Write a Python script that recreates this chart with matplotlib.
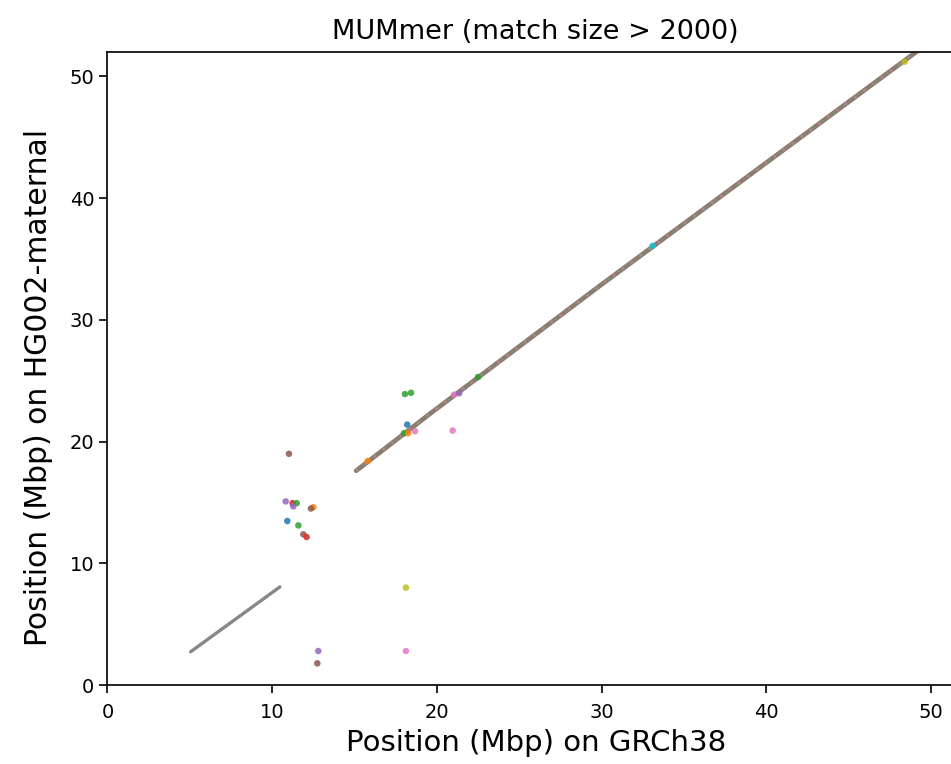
import numpy as np
import matplotlib
matplotlib.use("Agg")
import matplotlib.pyplot as plt

# main collinear block (GRCh38 Mbp -> HG002-maternal Mbp), breakpoints along the run
diag_x = [15.1, 19.6, 29.9, 40.0, 49.6]
diag_y = [17.6, 22.3, 32.8, 42.9, 52.5]

# long gray alignment at the start of the chromosome
gray_x = [5.05, 10.47]
gray_y = [2.73, 8.06]

# short scattered matches (> 2000 bp), each drawn as a dot
dot_x = [11.02, 10.82, 11.24, 11.49, 11.28, 12.50, 12.35, 10.92, 11.59, 11.89, 12.09,
         12.80, 12.74, 18.12, 18.12,
         18.06, 18.43, 18.20, 18.00, 18.25, 18.67, 20.96, 21.04, 21.36, 22.50,
         15.80, 33.10, 48.40]
dot_y = [18.99, 15.08, 14.94, 14.94, 14.67, 14.60, 14.50, 13.47, 13.11, 12.38, 12.16,
         2.79, 1.78, 8.00, 2.79,
         23.90, 24.00, 21.39, 20.68, 20.68, 20.85, 20.90, 23.85, 23.96, 25.30,
         18.40, 36.07, 51.20]
dot_c = ["tab:brown", "tab:purple", "tab:red", "tab:green", "tab:purple", "tab:orange",
         "tab:brown", "tab:blue", "tab:green", "tab:brown", "tab:red",
         "tab:purple", "tab:brown", "tab:olive", "tab:pink",
         "tab:green", "tab:green", "tab:blue", "tab:green", "tab:orange", "tab:pink",
         "tab:pink", "tab:pink", "tab:purple", "tab:green",
         "tab:orange", "tab:cyan", "tab:olive"]

fig = plt.figure(figsize=(9.51, 7.64), dpi=100)
ax = fig.add_axes([0.113, 0.1034, 0.9006, 0.8286])

ax.plot(diag_x, diag_y, color="#8b7d70", lw=3.4, solid_capstyle="round", zorder=2)
ax.plot(diag_x, diag_y, color="#c98a9c", lw=2.0, ls=(0, (1, 3)), alpha=0.6, zorder=3)
ax.plot(diag_x, diag_y, color="#7fa37a", lw=1.6, ls=(2, (1, 5)), alpha=0.5, zorder=3)
ax.plot(gray_x, gray_y, color="#888888", lw=2.4, solid_capstyle="round", zorder=2)
ax.scatter(dot_x, dot_y, c=dot_c, s=22, alpha=0.85, linewidths=0, zorder=4)

ax.set_xlim(0, 52)
ax.set_ylim(0, 52)
ax.set_xticks([0, 10, 20, 30, 40, 50])
ax.set_yticks([0, 10, 20, 30, 40, 50])
for s in ax.spines.values():
    s.set_linewidth(1.3)
    s.set_color("#111111")
ax.tick_params(direction="out", length=6, width=1.2, labelsize=14)
ax.tick_params(axis="x", pad=7)

ax.set_title("MUMmer (match size > 2000)", fontsize=19.5, pad=9)
ax.set_xlabel("Position (Mbp) on GRCh38", fontsize=21, labelpad=5)
ax.set_ylabel("Position (Mbp) on HG002-maternal", fontsize=21.5)
ax.yaxis.set_label_coords(-0.064, 0.47)

fig.savefig("out.png", dpi=100)
